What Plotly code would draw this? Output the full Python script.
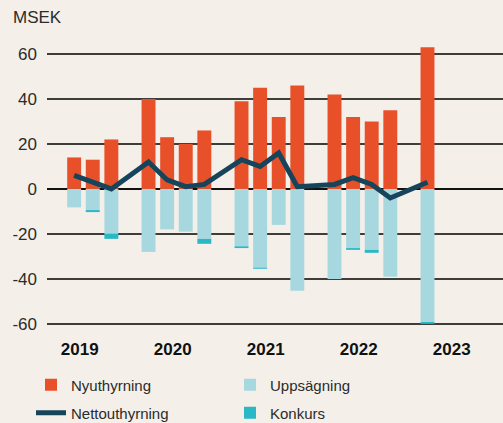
import plotly.graph_objects as go

quarters = ["2019 Q2", "2019 Q3", "2019 Q4",
            "2020 Q1", "2020 Q2", "2020 Q3", "2020 Q4",
            "2021 Q1", "2021 Q2", "2021 Q3", "2021 Q4",
            "2022 Q1", "2022 Q2", "2022 Q3", "2022 Q4",
            "2023 Q1"]
nyuthyrning = [14, 13, 22, 40, 23, 20, 26, 39, 45, 32, 46, 42, 32, 30, 35, 63]
uppsagning = [-8.2, -9.4, -20, -28, -18, -19, -22.2, -25.5, -35, -16, -45.3, -40, -26.3, -27.1, -39, -59.1]
konkurs = [0, -0.9, -2.2, 0, 0, 0, -2.2, -0.8, -0.5, 0, 0, 0, -0.8, -1.3, 0, -0.9]
nettouthyrning = [6, 3, 0, 12, 4, 1, 2, 13, 10, 16, 1, 2, 5, 2, -4, 3]
years = [2019, 2020, 2021, 2022, 2023]
y_ticks = [-60, -40, -20, 0, 20, 40, 60]
y_ticktext = ["-60", "-40", "-20", "0", "20", "40", "60"]


def slot(label):
    y, q = label.split(" Q")
    return (int(y) - years[0]) * 5 + int(q) - 1


xs = [slot(q) for q in quarters]
year_pos = [(y - years[0]) * 5 + 1.3 for y in years]

FONT = "Liberation Sans, Arial, sans-serif"
TXT = "#2b2b2b"
BG = "#F4F0E9"
W, H = 503, 423

fig = go.Figure()
fig.add_bar(x=xs, y=nyuthyrning, name="Nyuthyrning", marker_color="#E8502A",
            marker_line_width=0, width=0.75, legend="legend")
fig.add_bar(x=xs, y=uppsagning, name="Uppsägning", marker_color="#A8D8DF",
            marker_line_width=0, width=0.75, legend="legend")
fig.add_bar(x=xs, y=konkurs, name="Konkurs", marker_color="#2BB8C6",
            marker_line_width=0, width=0.75, legend="legend2")
fig.add_scatter(x=xs, y=nettouthyrning, name="Nettouthyrning", mode="lines",
                line=dict(color="#16445B", width=5), legend="legend2")

fig.data[2].legendrank = 2
fig.data[3].legendrank = 1

legend_common = dict(orientation="h", xanchor="left", yanchor="middle",
                     xref="container", yref="container",
                     font=dict(family=FONT, size=15, color=TXT),
                     bgcolor="rgba(0,0,0,0)", entrywidth=154,
                     entrywidthmode="pixels", traceorder="normal",
                     itemclick=False)

fig.update_layout(
    width=W, height=H,
    margin=dict(l=47, r=0, t=36, b=98, autoexpand=False),
    paper_bgcolor=BG, plot_bgcolor=BG,
    barmode="relative",
    bargap=0.25,
    hovermode=False,
    font=dict(family=FONT, size=17, color=TXT),
    legend=dict(x=31 / W, y=(H - 385) / H, **legend_common),
    legend2=dict(x=31 / W, y=(H - 413) / H, **legend_common),
    xaxis=dict(range=[-0.46, 24.06], tickvals=year_pos,
               ticktext=[str(y) for y in years], showgrid=False,
               zeroline=False, showline=False, ticks="", automargin=False,
               tickfont=dict(family=FONT, size=17, color="#111", weight="bold"),
               ticklabelstandoff=12),
    yaxis=dict(range=[-60.5, 68], tickvals=y_ticks, ticktext=y_ticktext,
               showgrid=True, gridcolor="#3d3d3a", gridwidth=1.5,
               zeroline=True, zerolinecolor="#111111", zerolinewidth=2.2,
               showline=False, ticks="", ticklabelstandoff=9, automargin=False,
               tickfont=dict(family=FONT, size=17, color=TXT)),
    annotations=[dict(text="MSEK", xref="paper", yref="paper",
                      x=(11 - 47) / 456, y=(325 - 17) / 289,
                      xanchor="left", yanchor="middle", showarrow=False,
                      font=dict(family=FONT, size=17, color=TXT))],
)

fig.write_html("out.html", config={"displayModeBar": False, "staticPlot": True},
               post_script="document.body.style.margin='0';document.body.style.overflow='hidden';")
